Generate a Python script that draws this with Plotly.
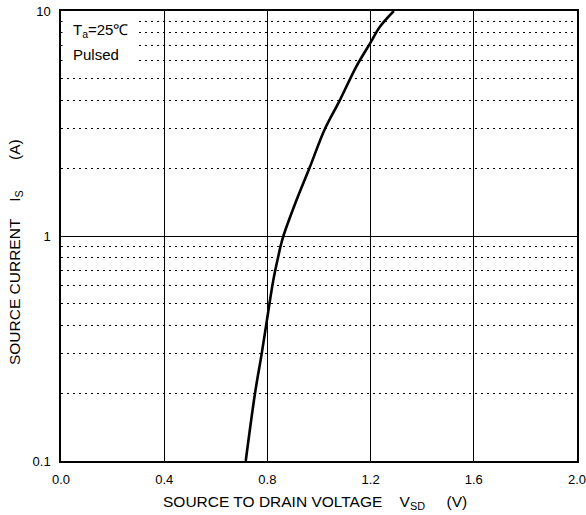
import plotly.graph_objects as go

# Curve (V_SD in volts, I_S in amperes)
v_sd = [0.716, 0.752, 0.778, 0.795, 0.808, 0.819, 0.830, 0.841, 0.851, 0.862,
        0.913, 0.965, 1.021, 1.081, 1.144, 1.198, 1.236, 1.290]
i_s = [0.1, 0.2, 0.3, 0.4, 0.5, 0.6, 0.7, 0.8, 0.9, 1.0,
       1.445, 2.03, 2.96, 4.02, 5.65, 7.18, 8.51, 10.0]

x_ticks = [0.0, 0.4, 0.8, 1.2, 1.6, 2.0]
x_tick_labels = ["0.0", "0.4", "0.8", "1.2", "1.6", "2.0"]
y_ticks = [0.1, 1, 10]
y_tick_labels = ["0.1", "1", "10"]
y_minor = [0.2, 0.3, 0.4, 0.5, 0.6, 0.7, 0.8, 0.9,
           2, 3, 4, 5, 6, 7, 8, 9]

FONT = "Liberation Sans, Arial, sans-serif"

fig = go.Figure()
fig.add_trace(go.Scatter(
    x=v_sd, y=i_s, mode="lines",
    line=dict(color="black", width=2.6, shape="spline", smoothing=1.0),
    hoverinfo="skip", showlegend=False,
))

fig.update_layout(
    width=586, height=515,
    margin=dict(l=61, r=9, t=11, b=54),
    paper_bgcolor="white", plot_bgcolor="white",
    font=dict(family=FONT, color="black", size=13),
    showlegend=False,
    xaxis=dict(
        range=[0, 2.0], tickvals=x_ticks, ticktext=x_tick_labels,
        showgrid=True, gridcolor="black", gridwidth=1,
        showline=True, linecolor="black", linewidth=1.5, mirror=True,
        ticks="", zeroline=False, automargin=False,
        tickfont=dict(size=13), ticklabelstandoff=6,
        ticklabeloverflow="allow",
    ),
    yaxis=dict(
        type="log", range=[-1, 1], tickvals=y_ticks, ticktext=y_tick_labels,
        showgrid=True, gridcolor="black", gridwidth=1,
        showline=True, linecolor="black", linewidth=1.5, mirror=True,
        ticks="", zeroline=False, automargin=False,
        tickfont=dict(size=13), ticklabelstandoff=6,
        ticklabeloverflow="allow",
        minor=dict(tickvals=y_minor, showgrid=True, gridcolor="black",
                   gridwidth=1, griddash="2px,4px", ticks=""),
    ),
)

# Axis titles
fig.add_annotation(xref="paper", yref="paper", x=0.4922, y=-0.093,
                   xanchor="center", yanchor="middle", showarrow=False,
                   text="SOURCE TO DRAIN VOLTAGE    V<sub>SD</sub>     (V)",
                   font=dict(size=15.5))
fig.add_annotation(xref="paper", yref="paper", x=-0.0891, y=0.4644,
                   xanchor="center", yanchor="middle", showarrow=False,
                   textangle=-90,
                   text="SOURCE CURRENT    I<sub>S</sub>       (A)",
                   font=dict(size=15.5))

# White box behind the condition text
fig.add_shape(type="rect", xref="paper", yref="paper",
              x0=0.003, x1=0.149, y0=0.869, y1=0.997,
              fillcolor="white", line=dict(width=0), layer="above")

fig.add_annotation(xref="paper", yref="paper", x=0.019, y=0.956,
                   xanchor="left", yanchor="middle", showarrow=False,
                   text="T<sub>a</sub>=25℃", font=dict(size=15), align="left")
fig.add_annotation(xref="paper", yref="paper", x=0.019, y=0.903,
                   xanchor="left", yanchor="middle", showarrow=False,
                   text="Pulsed", font=dict(size=15), align="left")

fig.write_html("out.html",
               config={"displayModeBar": False},
               post_script="document.body.style.margin='0';"
                           "document.body.style.overflow='hidden';")
